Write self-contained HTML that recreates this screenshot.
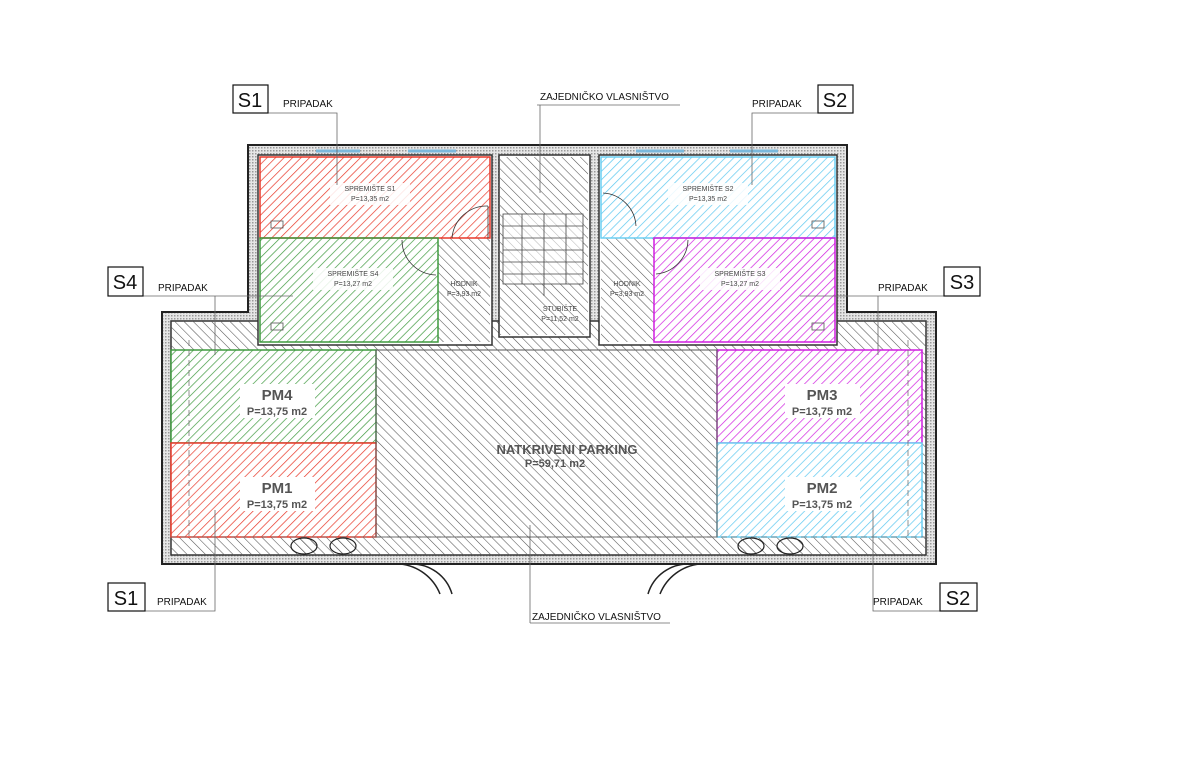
<!DOCTYPE html>
<html><head><meta charset="utf-8"><style>
html,body{margin:0;padding:0;background:#fff;}
svg{display:block;font-family:"Liberation Sans",sans-serif;}
</style></head><body>
<svg width="1200" height="762" viewBox="0 0 1200 762" xmlns="http://www.w3.org/2000/svg">
<defs>
<pattern id="hg" width="6.5" height="6.5" patternUnits="userSpaceOnUse" patternTransform="rotate(-45)"><line x1="0" y1="0" x2="0" y2="7" stroke="#555" stroke-width="1.1"/></pattern>
<pattern id="hr" width="6" height="6" patternUnits="userSpaceOnUse" patternTransform="rotate(45)"><line x1="0" y1="0" x2="0" y2="6" stroke="#e8392a" stroke-width="1.4"/></pattern>
<pattern id="hgr" width="6" height="6" patternUnits="userSpaceOnUse" patternTransform="rotate(45)"><line x1="0" y1="0" x2="0" y2="6" stroke="#3f9a3f" stroke-width="1.4"/></pattern>
<pattern id="hb" width="6" height="6" patternUnits="userSpaceOnUse" patternTransform="rotate(45)"><line x1="0" y1="0" x2="0" y2="6" stroke="#5cc8f0" stroke-width="1.4"/></pattern>
<pattern id="hm" width="6" height="6" patternUnits="userSpaceOnUse" patternTransform="rotate(45)"><line x1="0" y1="0" x2="0" y2="6" stroke="#d01ee0" stroke-width="1.4"/></pattern>
<pattern id="dots" width="3" height="3" patternUnits="userSpaceOnUse"><rect width="3" height="3" fill="#e6e6e6"/><rect width="1.5" height="1.5" fill="#999"/></pattern>
</defs>

<path d="M248 145 H847 V312 H936 V564 H162 V312 H248 Z" fill="url(#dots)" stroke="#222" stroke-width="2"/>
<g stroke="#7ab8dc" stroke-width="3">
<line x1="316" y1="151" x2="360" y2="151"/><line x1="408" y1="151" x2="456" y2="151"/>
<line x1="636" y1="151" x2="684" y2="151"/><line x1="730" y1="151" x2="778" y2="151"/>
</g>
<rect x="171" y="321" width="755" height="234" fill="#fff" stroke="#333" stroke-width="1.5"/>
<rect x="171" y="321" width="755" height="234" fill="url(#hg)"/>
<rect x="258" y="155" width="234" height="190" fill="#fff" stroke="#333" stroke-width="1.5"/>
<rect x="499" y="155" width="91" height="182" fill="#fff" stroke="#333" stroke-width="1.5"/>
<rect x="599" y="155" width="238" height="190" fill="#fff" stroke="#333" stroke-width="1.5"/>
<rect x="500" y="157" width="88" height="178" fill="url(#hg)"/>
<rect x="438" y="238" width="52" height="104" fill="url(#hg)"/>
<rect x="601" y="238" width="53" height="104" fill="url(#hg)"/>
<g stroke="#444" stroke-width="0.8" fill="none">
<rect x="503" y="214" width="80" height="70" fill="#fff" fill-opacity="0.6"/>
<line x1="544" y1="214" x2="544" y2="296"/>
<line x1="503" y1="226" x2="583" y2="226"/><line x1="503" y1="238" x2="583" y2="238"/>
<line x1="503" y1="250" x2="583" y2="250"/><line x1="503" y1="262" x2="583" y2="262"/>
<line x1="503" y1="274" x2="583" y2="274"/>
<line x1="522" y1="214" x2="522" y2="284"/><line x1="566" y1="214" x2="566" y2="284"/>
</g>
<rect x="260" y="157" width="230" height="81" fill="url(#hr)" stroke="#e8392a" stroke-width="1.5"/>
<rect x="260" y="238" width="178" height="104" fill="url(#hgr)" stroke="#3f9a3f" stroke-width="1.5"/>
<rect x="601" y="157" width="234" height="81" fill="url(#hb)" stroke="#6ccff2" stroke-width="1.5"/>
<rect x="654" y="238" width="181" height="104" fill="url(#hm)" stroke="#d01ee0" stroke-width="1.5"/>
<g fill="none" stroke="#333" stroke-width="0.8">
<path d="M488 206 A35 35 0 0 0 452 238"/><line x1="488" y1="206" x2="488" y2="238"/>
<path d="M402 240 A35 35 0 0 0 436 275"/>
<path d="M603 193 A35 35 0 0 1 636 226"/>
<path d="M688 240 A35 35 0 0 1 656 274"/>
</g>
<rect x="171" y="350" width="205" height="93" fill="#fff"/><rect x="171" y="350" width="205" height="93" fill="url(#hgr)" stroke="#3f9a3f" stroke-width="1.5"/>
<rect x="171" y="443" width="205" height="94" fill="#fff"/><rect x="171" y="443" width="205" height="94" fill="url(#hr)" stroke="#e8392a" stroke-width="1.5"/>
<rect x="717" y="350" width="205" height="93" fill="#fff"/><rect x="717" y="350" width="205" height="93" fill="url(#hm)" stroke="#d01ee0" stroke-width="1.5"/>
<rect x="717" y="443" width="205" height="94" fill="#fff"/><rect x="717" y="443" width="205" height="94" fill="url(#hb)" stroke="#6ccff2" stroke-width="1.5"/>
<rect x="376" y="350" width="341" height="187" fill="none" stroke="#555" stroke-width="1"/>
<g stroke="#777" stroke-width="0.8" stroke-dasharray="6 4" fill="none">
<line x1="189" y1="340" x2="189" y2="540"/><line x1="908" y1="340" x2="908" y2="540"/>
<line x1="171" y1="537" x2="926" y2="537"/>
</g>
<g fill="url(#hg)" stroke="#222" stroke-width="1.2">
<ellipse cx="304" cy="546" rx="13" ry="8"/><ellipse cx="343" cy="546" rx="13" ry="8"/>
<ellipse cx="751" cy="546" rx="13" ry="8"/><ellipse cx="790" cy="546" rx="13" ry="8"/>
</g>
<g fill="none" stroke="#222" stroke-width="1.5">
<path d="M410 564 A42 42 0 0 1 452 594"/><path d="M400 564 A48 48 0 0 1 440 594"/>
<path d="M690 564 A42 42 0 0 0 648 594"/><path d="M700 564 A48 48 0 0 0 660 594"/>
</g>
<g fill="none" stroke="#555" stroke-width="0.8">
<rect x="271" y="221" width="12" height="7"/><rect x="271" y="323" width="12" height="7"/>
<rect x="812" y="221" width="12" height="7"/><rect x="812" y="323" width="12" height="7"/>
</g>
<g fill="#444" font-size="7" text-anchor="middle">
<rect x="330" y="183" width="80" height="22" fill="#fff" fill-opacity="0.85"/>
<text x="370" y="191">SPREMIŠTE S1</text><text x="370" y="201">P=13,35 m2</text>
<rect x="313" y="268" width="80" height="22" fill="#fff" fill-opacity="0.85"/>
<text x="353" y="276">SPREMIŠTE S4</text><text x="353" y="286">P=13,27 m2</text>
<text x="464" y="286">HODNIK</text><text x="464" y="296">P=3,93 m2</text>
<text x="560" y="311">STUBIŠTE</text><text x="560" y="321">P=11,52 m2</text>
<text x="627" y="286">HODNIK</text><text x="627" y="296">P=3,93 m2</text>
<rect x="668" y="183" width="80" height="22" fill="#fff" fill-opacity="0.85"/>
<text x="708" y="191">SPREMIŠTE S2</text><text x="708" y="201">P=13,35 m2</text>
<rect x="700" y="268" width="80" height="22" fill="#fff" fill-opacity="0.85"/>
<text x="740" y="276">SPREMIŠTE S3</text><text x="740" y="286">P=13,27 m2</text>
</g>
<g fill="#555" font-weight="bold" text-anchor="middle">
<rect x="240" y="384" width="75" height="34" fill="#fff"/>
<text x="277" y="400" font-size="15">PM4</text><text x="277" y="415" font-size="11">P=13,75 m2</text>
<rect x="240" y="477" width="75" height="34" fill="#fff"/>
<text x="277" y="493" font-size="15">PM1</text><text x="277" y="508" font-size="11">P=13,75 m2</text>
<rect x="785" y="384" width="75" height="34" fill="#fff"/>
<text x="822" y="400" font-size="15">PM3</text><text x="822" y="415" font-size="11">P=13,75 m2</text>
<rect x="785" y="477" width="75" height="34" fill="#fff"/>
<text x="822" y="493" font-size="15">PM2</text><text x="822" y="508" font-size="11">P=13,75 m2</text>
<text x="567" y="454" font-size="13">NATKRIVENI PARKING</text><text x="555" y="467" font-size="11">P=59,71 m2</text>
</g>
<g stroke="#666" stroke-width="0.8" fill="none">
<polyline points="268,113 337,113 337,185"/>
<polyline points="537,105 680,105"/><line x1="540" y1="105" x2="540" y2="193"/>
<polyline points="818,113 752,113 752,185"/>
<polyline points="143,296 293,296"/><line x1="215" y1="296" x2="215" y2="355"/>
<polyline points="944,296 800,296"/><line x1="878" y1="296" x2="878" y2="355"/>
<polyline points="145,611 215,611 215,510"/>
<polyline points="530,623 670,623"/><line x1="530" y1="623" x2="530" y2="525"/>
<polyline points="940,611 873,611 873,510"/>
</g>
<g fill="#fff" stroke="#111" stroke-width="1.2">
<rect x="233" y="85" width="35" height="28"/><rect x="818" y="85" width="35" height="28"/>
<rect x="108" y="267" width="35" height="29"/><rect x="944" y="267" width="36" height="29"/>
<rect x="108" y="583" width="37" height="28"/><rect x="940" y="583" width="37" height="28"/>
</g>
<g fill="#111" font-size="20" text-anchor="middle">
<text x="250" y="107">S1</text><text x="835" y="107">S2</text>
<text x="125" y="289">S4</text><text x="962" y="289">S3</text>
<text x="126" y="605">S1</text><text x="958" y="605">S2</text>
</g>
<g fill="#111" font-size="10">
<text x="283" y="107">PRIPADAK</text><text x="752" y="107">PRIPADAK</text>
<text x="540" y="100">ZAJEDNIČKO VLASNIŠTVO</text>
<text x="158" y="291">PRIPADAK</text><text x="878" y="291">PRIPADAK</text>
<text x="157" y="605">PRIPADAK</text><text x="873" y="605">PRIPADAK</text>
<text x="532" y="620">ZAJEDNIČKO VLASNIŠTVO</text>
</g>
</svg>
</body></html>
